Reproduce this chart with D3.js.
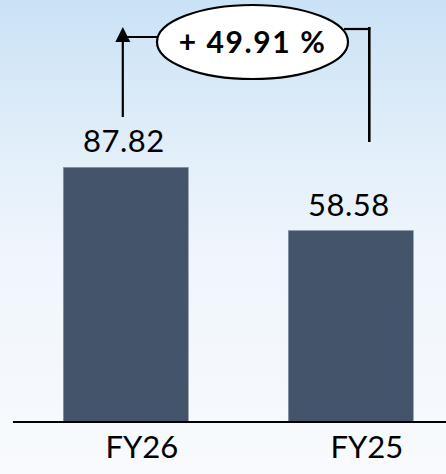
<!DOCTYPE html>
<html>
<head>
<meta charset="utf-8">
<script src="https://cdn.jsdelivr.net/npm/d3@7"></script>
<style>
  html, body { margin: 0; padding: 0; background: #f7fafd; }
  svg { display: block; }
</style>
</head>
<body>
<svg id="chart" width="446" height="474"></svg>
<script>
const categories = ["FY26", "FY25"];
const values = [87.82, 58.58];
const valueLabels = ["87.82", "58.58"];
const changeLabel = "+ 49.91 %";
const yDomain = [-30, 100];

const W = 446, H = 474;
const baseY = 422;
const svg = d3.select("#chart");

// background gradient
const defs = svg.append("defs");
const grad = defs.append("linearGradient").attr("id", "bg").attr("x1", 0).attr("y1", 0).attr("x2", 0).attr("y2", 1);
grad.append("stop").attr("offset", "0%").attr("stop-color", "#cae2f6");
grad.append("stop").attr("offset", "30%").attr("stop-color", "#e1eef9");
grad.append("stop").attr("offset", "55%").attr("stop-color", "#f0f6fc");
grad.append("stop").attr("offset", "100%").attr("stop-color", "#f8fafd");
svg.append("rect").attr("width", W).attr("height", H).attr("fill", "url(#bg)");

const x = d3.scaleBand().domain(categories).range([13.3, 463.3]).paddingInner(0.4444).paddingOuter(0.2222);
const y = d3.scaleLinear().domain(yDomain).range([baseY, 141]);

const data = categories.map((c, i) => ({ c, v: values[i], label: valueLabels[i] }));

// bars
svg.selectAll("rect.bar").data(data).enter().append("rect")
  .attr("class", "bar")
  .attr("x", d => x(d.c))
  .attr("width", x.bandwidth())
  .attr("y", d => y(d.v))
  .attr("height", d => baseY - y(d.v))
  .attr("fill", "#44546a")
  .attr("stroke", "#8a96a8")
  .attr("stroke-width", 0.6);

// baseline
svg.append("line").attr("x1", 13).attr("x2", W).attr("y1", baseY).attr("y2", baseY)
  .attr("stroke", "#000").attr("stroke-width", 2);

const font = "Lato, 'Open Sans', sans-serif";

// value labels
svg.selectAll("text.val").data(data).enter().append("text")
  .attr("class", "val")
  .attr("x", d => x(d.c) + x.bandwidth() / 2 - 2)
  .attr("y", d => y(d.v) - 15)
  .attr("text-anchor", "middle")
  .attr("font-family", font)
  .attr("font-size", 31)
  .attr("letter-spacing", 0.5)
  .attr("fill", "#000")
  .text(d => d.label);

// category labels
svg.selectAll("text.cat").data(data).enter().append("text")
  .attr("class", "cat")
  .attr("x", d => x(d.c) + x.bandwidth() / 2 + 16)
  .attr("y", 458)
  .attr("text-anchor", "middle")
  .attr("font-family", font)
  .attr("font-size", 31)
  .attr("fill", "#000")
  .text(d => d.c);

// annotation bracket
const c0 = x(categories[0]) + x.bandwidth() / 2;
const c1 = x(categories[1]) + x.bandwidth() / 2;
const ex = 252.5, ey = 42, rx = 95.5, ry = 37;
const leftX = c0 - 3, rightX = c1 + 18.5;
const leftY = 35, rightY = 29;

const g = svg.append("g").attr("fill", "none").attr("stroke", "#000").attr("stroke-width", 2.2);
g.append("line").attr("x1", leftX).attr("x2", leftX).attr("y1", 117).attr("y2", 40);
g.append("line").attr("x1", leftX).attr("x2", ex - rx).attr("y1", leftY + 2).attr("y2", leftY + 2);
g.append("line").attr("x1", ex + rx - 4).attr("x2", rightX + 1).attr("y1", rightY).attr("y2", rightY);
g.append("line").attr("x1", rightX).attr("x2", rightX).attr("y1", rightY - 2).attr("y2", 142).attr("stroke-width", 2.6);
// arrowhead
svg.append("path")
  .attr("d", d3.line()([[leftX - 7.5, 42], [leftX, 27], [leftX + 7.5, 42]]) + "Z")
  .attr("fill", "#000");

svg.append("ellipse").attr("cx", ex).attr("cy", ey).attr("rx", rx).attr("ry", ry)
  .attr("fill", "#fff").attr("stroke", "#000").attr("stroke-width", 2.2);
svg.append("text").attr("x", ex).attr("y", 52.5)
  .attr("text-anchor", "middle")
  .attr("font-family", font)
  .attr("font-weight", "bold")
  .attr("font-size", 30)
  .attr("letter-spacing", 1.6)
  .attr("fill", "#000")
  .text(changeLabel);
</script>
</body>
</html>
